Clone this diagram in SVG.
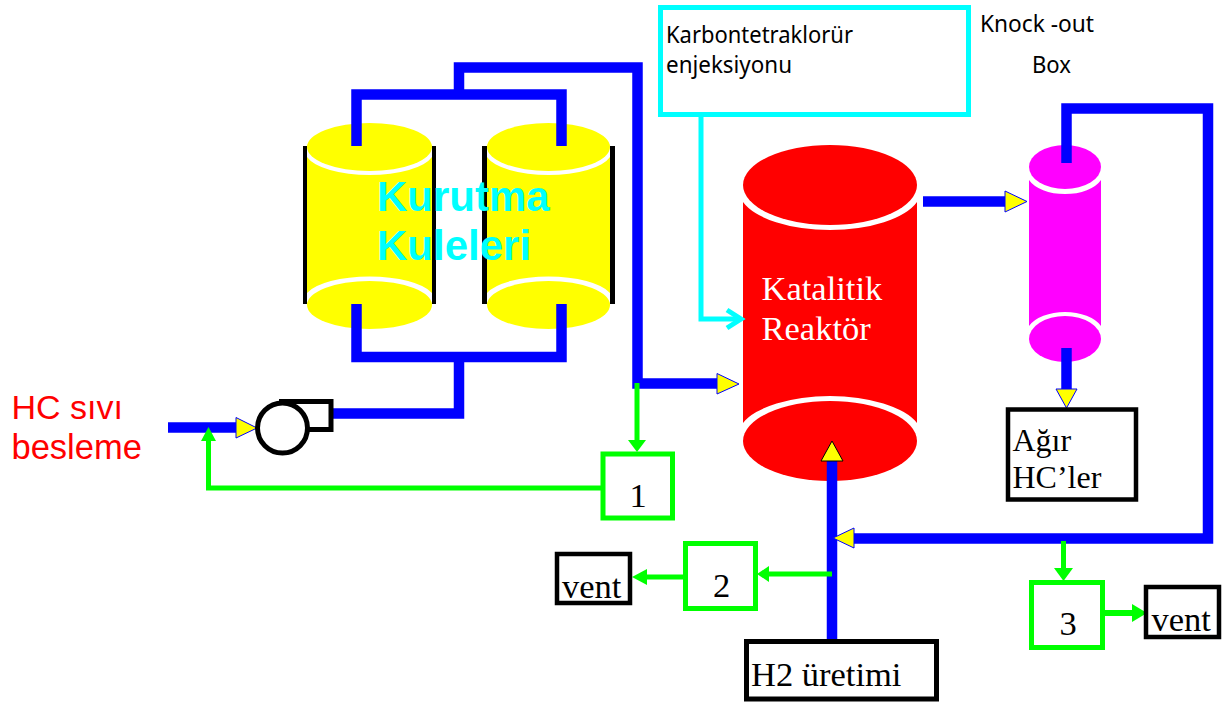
<svg xmlns="http://www.w3.org/2000/svg" width="1232" height="702" viewBox="0 0 1232 702">
<style>
.pipe{fill:none;stroke:#0000ff;stroke-width:10.5;stroke-linejoin:miter}
.gline{fill:none;stroke:#00ff00;stroke-width:5}
.ghead{fill:#00ff00;stroke:none}
.tri{fill:#ffff00;stroke:#0000ff;stroke-width:1}
.trib{fill:#ffff00;stroke:#000;stroke-width:1}
.gbox{fill:#fff;stroke:#00ff00;stroke-width:5}
.kbox{fill:#fff;stroke:#000;stroke-width:4.5}
.bar{fill:#000}
.t{font-family:"Liberation Serif","Times New Roman",serif;font-size:34.5px;fill:#000}
.s{font-family:"Noto Sans","DejaVu Sans",sans-serif;font-size:23px;fill:#000}
.y{fill:#ffff00}.r{fill:#ff0000}.m{fill:#ff00ff}
</style>
<g id="drum-1">
<rect class="bar" x="303" y="146" width="4" height="158"/>
<rect class="bar" x="432" y="146" width="4" height="158"/>
<path class="y" d="M307 157A64.600 24 0 0 0 432 157V293A65.800 24 0 0 0 307 293Z"/>
<ellipse class="y" cx="369.500" cy="147" rx="62.500" ry="24"/>
<ellipse class="y" cx="369.500" cy="305" rx="62.500" ry="24"/>
</g>
<g id="drum-2">
<rect class="bar" x="482" y="146" width="5" height="158"/>
<rect class="bar" x="610" y="146" width="5" height="158"/>
<path class="y" d="M487 157A63.500 24 0 0 0 610 157V293A64.800 24 0 0 0 487 293Z"/>
<ellipse class="y" cx="548.500" cy="147" rx="61.500" ry="24"/>
<ellipse class="y" cx="548.500" cy="305" rx="61.500" ry="24"/>
</g>
<g id="reactor">
<path class="r" d="M743 202A91.200 40 0 0 0 917 202V423A92 40 0 0 0 743 423Z"/>
<ellipse class="r" cx="830" cy="185" rx="87" ry="40"/>
<ellipse class="r" cx="830" cy="441" rx="87" ry="40"/>
<text class="t" x="761.500" y="300" style="fill:#fff">Katalitik</text>
<text class="t" x="761.500" y="340" style="fill:#fff">Reaktör</text>
</g>
<g id="knockout">
<path class="m" d="M1029 180A38.600 22 0 0 0 1101 180V326A39.100 23 0 0 0 1029 326Z"/>
<ellipse class="m" cx="1065" cy="167" rx="36" ry="22"/>
<ellipse class="m" cx="1065" cy="339" rx="36" ry="23"/>
</g>
<g id="connectors">
<path class="pipe" d="M356.500 146V94.500H561.500V146"/>
<path class="pipe" d="M459 94V67.500H637.500V383.500H718"/>
<path class="pipe" d="M356.500 304V357H561.500V304"/>
<path class="pipe" d="M459 357V413.500H333"/>
<path class="pipe" d="M168 427.500H237"/>
<path class="pipe" d="M923 201.500H1006"/>
<path class="pipe" d="M1066.500 163V108.500H1208V538.500H853"/>
<path class="pipe" d="M1066.500 348V390"/>
<path class="pipe" d="M832 640V460"/>
<path d="M701 117V319H738" fill="none" stroke="#00ffff" stroke-width="5"/>
<path d="M727 310L741 319L727 328" fill="none" stroke="#00ffff" stroke-width="5"/>
<path class="gline" d="M208.500 440V488H603"/>
<path class="ghead" d="M208.500 427L216 441H201Z"/>
<path class="gline" d="M637 383V441"/>
<path class="ghead" d="M637 452L628 440H646Z"/>
<path class="gline" d="M832 574H768"/>
<path class="ghead" d="M757 574L769 566V582Z"/>
<path class="gline" d="M684 577H646"/>
<path class="ghead" d="M632 577L647 569V585Z"/>
<path class="gline" d="M1063.500 541V570"/>
<path class="ghead" d="M1063.500 581L1054 568H1073Z"/>
<path class="gline" d="M1105 613H1133" style="stroke-width:6"/>
<path class="ghead" d="M1147 613L1132 604V622Z"/>
<path class="tri" d="M236 417.500L257 428L236 438Z"/>
<path class="tri" d="M717 373.500L739 384L717 394Z"/>
<path class="tri" d="M1005 191L1027 201.500L1005 212Z"/>
<path class="tri" d="M1056 389H1077L1066.500 408Z"/>
<path class="tri" d="M854 528V548L833 538Z"/>
<path class="trib" d="M832 441L843 461H821Z"/>
</g>
<g id="pump">
<path d="M279 401.500H331V429.500H308" fill="none" stroke="#000" stroke-width="5"/>
<circle cx="282.500" cy="428" r="25" fill="#fff" stroke="#000" stroke-width="5"/>
</g>
<g id="box-1"><rect class="gbox" x="603" y="454" width="69.500" height="64"/><text class="t" x="638" y="507" text-anchor="middle">1</text></g>
<g id="box-2"><rect class="gbox" x="685.500" y="543.500" width="70" height="65"/><text class="t" x="721.500" y="597" text-anchor="middle">2</text></g>
<g id="box-3"><rect class="gbox" x="1031.500" y="582.500" width="71" height="65"/><text class="t" x="1068" y="635" text-anchor="middle">3</text></g>
<g id="vent-1"><rect class="kbox" x="557" y="554" width="73" height="49"/><text class="t" x="562" y="598">vent</text></g>
<g id="vent-2"><rect class="kbox" x="1146" y="587" width="73" height="50"/><text class="t" x="1151.500" y="631">vent</text></g>
<g id="h2"><rect class="kbox" x="746.500" y="641.500" width="190" height="57.500" style="stroke-width:5"/><text class="t" x="751" y="686">H2 üretimi</text></g>
<g id="heavy"><rect class="kbox" x="1008" y="409.500" width="128" height="90"/><text class="t" x="1012.500" y="451" style="font-size:32px">Ağır</text><text class="t" x="1012.500" y="488" style="font-size:32px">HC’ler</text></g>
<g id="ccl4"><rect x="660.500" y="7.500" width="308" height="107" fill="#fff" stroke="#00ffff" stroke-width="5"/><text class="s" x="666" y="43" textLength="187" lengthAdjust="spacingAndGlyphs">Karbontetraklorür</text><text class="s" x="666" y="73" textLength="126" lengthAdjust="spacingAndGlyphs">enjeksiyonu</text></g>
<g id="labels">
<text class="s" x="980" y="32" textLength="114" lengthAdjust="spacingAndGlyphs">Knock -out</text>
<text class="s" x="1032" y="73" textLength="39" lengthAdjust="spacingAndGlyphs">Box</text>
<text x="377" y="211" font-family="Liberation Sans, Arial, sans-serif" font-weight="bold" font-size="42" fill="#00ffff">Kurutma</text>
<text x="377" y="260" font-family="Liberation Sans, Arial, sans-serif" font-weight="bold" font-size="42" fill="#00ffff">Kuleleri</text>
<text x="11.500" y="419" font-family="Liberation Sans, Arial, sans-serif" font-size="34" fill="#ff0000">HC sıvı</text>
<text x="11.500" y="458.500" font-family="Liberation Sans, Arial, sans-serif" font-size="34.500" fill="#ff0000">besleme</text>
</g>
</svg>
